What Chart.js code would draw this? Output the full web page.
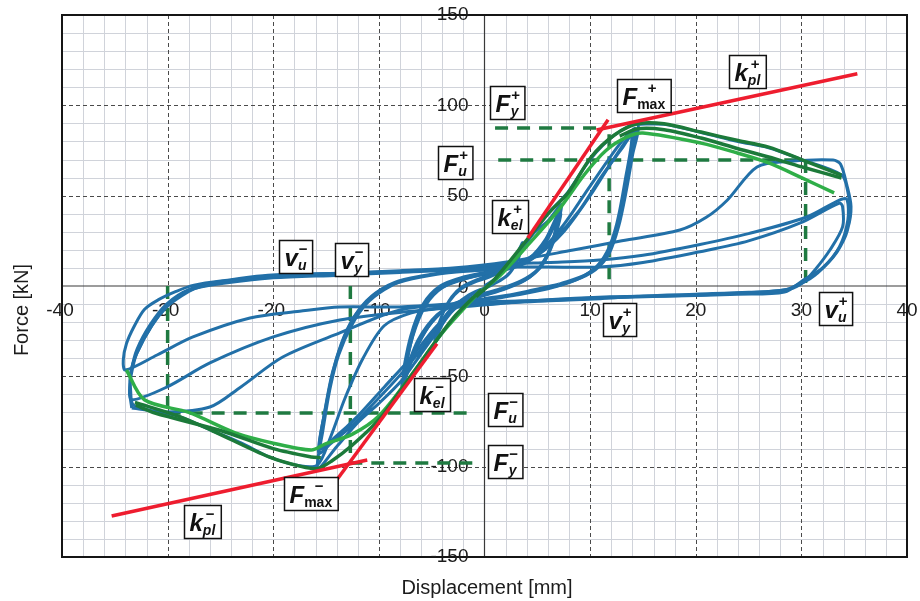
<!DOCTYPE html>
<html>
<head>
<meta charset="utf-8">
<script src="https://cdn.jsdelivr.net/npm/chart.js@4.4.0/dist/chart.umd.min.js"></script>
<style>
html, body { margin: 0; padding: 0; background: #ffffff; }
#wrap { width: 920px; height: 601px; }
</style>
</head>
<body>
<div id="wrap"><canvas id="chart" width="920" height="601"></canvas></div>
<script>
// ---- axis ticks ----
const xTickLabels = [-40, -30, -20, -10, 0, 10, 20, 30, 40];
const yTickLabels = [150, 100, 50, 0, -50, -100, -150];

// ---- measured hysteresis loops: [displacement mm, force kN] ----
const cyclesSmall = [
  [0,0],[1,4],[2,10],[3,17],[3.6,24],
  [3.2,15],[2.5,8],[1.5,3],[0,-1],[-1.5,-5],[-2.8,-11],[-3.8,-19],[-4.7,-30],
  [-4.2,-19],[-3.4,-9],[-2.3,-2],[-1,2],[0.5,5],[1.8,9],[2.8,14],[3.5,22],
  [3.0,13],[2.2,6],[1,1.5],[-0.5,-3],[-2,-7],[-3.2,-14],[-4.0,-21],[-4.6,-28],
  [-4.0,-16],[-3.1,-6],[-2,0],[-0.5,4],[1,7],[2.3,11],[3.4,20]
];
const cyclesMid = [
  [3.4,20],[3.9,24],[4.8,30],[6,36],[7.3,45],
  [6.7,30],[6,18],[5,9],[3.5,3],[1.5,-1.5],[-0.5,-5],[-2.5,-9],[-4.5,-17],[-6.2,-31],[-7.8,-56],
  [-7.2,-36],[-6.4,-18],[-5.3,-6],[-3.8,1],[-1.5,5],[1,8],[3,11],[4.8,18],[6.2,29],[7.3,44],
  [6.6,27],[5.7,14],[4.3,5],[2.5,0],[0.5,-4],[-2,-8],[-4,-14],[-5.8,-26],[-7.6,-50],
  [-7.0,-32],[-6.1,-15],[-4.8,-4],[-3,2],[-0.5,6],[2,9],[4,13],[5.6,22],[7.2,40],
  [6.5,24],[5.4,11],[4,4],[2,-1],[0,-5],[-2.5,-9],[-4.5,-16],[-6.3,-30],[-7.7,-50],
  [-7.0,-28],[-5.8,-10],[-4.2,0],[-2,5],[0.5,8],[2.5,10]
];
const cyclesMidLate = [
  [2.5,10],[4.2,15],[5.8,26],[7,40],[6.3,22],[5.2,10],[3.8,3],[1.8,-2],[-0.5,-6],[-3,-10],
  [-5,-20],[-6.6,-36],[-7.5,-48],[-6.8,-28],[-5.6,-11],[-4,-1],[-1.5,4.5],[1,7.5]
];
const cyclesLarge = [
  [2.5,10],[4,24],[6,40],[7.9,52],[10,70],[12.3,83.5],[14.5,89.5],
  [14.0,72],[13.4,52],[12.7,33],[11.8,18],[10.5,9],[8.5,3],[6,-1.5],[3,-5],[0,-8],[-2.5,-11],
  [-4.7,-27],[-6.3,-40],[-7.8,-52],[-10,-65],[-11.9,-75],[-14,-89],[-15.8,-101],
  [-15.3,-80],[-14.6,-56],[-13.8,-38],[-12.6,-22],[-11.2,-10],[-9.5,-2],[-7.5,3.5],[-5,6.5],[-2.5,8.5],[0,9.5],[2.3,10.5],
  [4,15],[5.4,20],[7.5,34],[9.5,51],[11.5,68],[13,80],[14.3,87],
  [13.8,68],[13.1,46],[12.4,28],[11.4,15],[10,7],[8,2],[5,-2.5],[2,-6],[-0.5,-8.5],[-3,-12],
  [-4.7,-25],[-7.5,-46],[-10,-62],[-12.5,-77],[-14.5,-87],[-15.7,-92.5],
  [-15.2,-72],[-14.4,-48],[-13.4,-30],[-12.2,-16],[-10.5,-5],[-8.5,2],[-6,5.5],[-3,8],[0,9],[2.5,10.5],
  [4.5,15],[6.5,25],[9,42],[11,60],[13,76],[14.2,85.5],
  [13.6,62],[12.9,40],[12.1,23],[11,13],[9.5,6],[7,1]
];
const cyclesLargeLate = [
  [7,1],[4,-3],[1,-6.5],[-2,-9.5],[-4.5,-22],[-7,-40],[-9.5,-56],[-12,-72],[-14.2,-84],[-15.6,-90],
  [-15,-66],[-14.1,-42],[-13,-24],[-11.6,-11],[-9.8,-2],[-7.5,3],[-4.5,6.5],[-1,8.5],[2.3,10],
  [5,17],[7.5,30],[10,50],[12.2,70],[13.9,83],
  [13.3,58],[12.5,34],[11.6,19],[10.3,9],[8,2],[4,-3.5],[0,-7]
];
const cycleBig1 = [
  [14.5,89.5],[17,89.5],[20.5,85],[24,80],[26.9,76.5],[30,70],[33.8,61.5],
  [34.4,52],[34.6,40],[34.2,28],[33,16],[31.3,6],[30.2,2],[28.5,-2],[25,-3.5],[20,-4.5],[15,-5.5],[11,-7],[5,-8.5],[0,-10],[-4,-12],[-7,-15],
  [-9.5,-22],[-11.5,-40],[-13.2,-62],[-14.6,-84],[-15.8,-99],[-17.5,-99.5],[-20.4,-94.6],[-23,-87],[-25.8,-80],[-29,-72],[-33.2,-66],
  [-33.5,-58],[-33.5,-48],[-32.9,-37],[-31.5,-22],[-30.1,-11.6],[-28.5,-4],[-26.9,-0.5],[-24,3],[-20.5,5.5],[-13.7,7],[-8,8.5],[-3,10],[2.1,13.3],
  [8.4,19.9],[13,25],[18.5,31],[21,38],[23,47.6],[25.8,65.9],[29,69],[33,69.7],[33.7,67.5],
  [34.3,56],[34.7,44],[34.4,32],[33.4,19],[31.5,7],[30.2,2.5],[28.3,-2.5],[24,-4],[18,-5],[11,-6.5],[5,-8],[0,-9.5],[-7.8,-13],
  [-13.7,-26],[-19.1,-39.3],[-23.1,-56],[-26,-67],[-30.1,-69.7],[-33.4,-67.5]
];
const cycleBig2 = [
  [-33.4,-67.5],[-33.6,-58],[-33.4,-46],[-32.9,-35],[-31.6,-21],[-30.1,-10],[-28,-2],[-25,2.5],[-20,4.5],[-13.7,6],[-8,7.5],[-3,9],[2.1,12],
  [6,13],[10.9,14.4],[15,17],[20.4,23],[25,29],[30.5,38.2],[33.6,47.6],[34.3,48],
  [34.4,36.5],[33.6,21.6],[32,10],[30.2,3.3],[28.4,-3.3],[24,-4.5],[18,-5.5],[11.9,-6],[5,-8],[-0.1,-10.5],[-7,-14],
  [-13.7,-18.8],[-20,-28.2],[-26,-42.6],[-30.1,-56],[-33.4,-63],
  [-33.6,-56],[-33.3,-45],[-32.9,-37],[-31.5,-22],[-30.1,-11.6],[-28,-3],[-26.9,-0.5],[-22,3.5],[-17.5,5.5],[-8,8],[-1.7,9.5],[2.1,10.5]
];
const cycleBig3 = [
  [2.1,10.5],[6,10.5],[10.9,10.5],[15,13],[20.4,19],[25,25],[29.9,34.9],[33.6,45.9],[33.9,44],
  [33.9,32.7],[32.7,19.9],[31.3,9],[30.2,2.2],[29,-1.5],[26,-3.5],[20,-5],[11.9,-6.5],[6,-8],[-0.1,-8.9],[-8,-11.6],
  [-13.7,-11.6],[-17.5,-14],[-22.2,-17.7],[-27.6,-28.2],[-31,-38.2],[-34,-46.5],
  [-34.2,-41],[-33.9,-32],[-33.2,-22.7],[-32.2,-13],[-30.9,-7.7],[-29.2,-3],[-27.5,0.5],[-24,3.5],[-20.5,6],[-13.7,7],[-8,8],[-3,9.5]
];

// ---- envelope curves ----
const envPosFirst = [[-0.8,-6],[1,4],[3.8,24],[6,40],[7.9,51.5],[10.1,71.4],[12.3,83.6],[14.5,89.8],[17,89.8],[20.5,85.2],[24,80.5],[26.9,76.9],[30,70],[33.8,61.4]];
const envPosSecond = [[12.8,83],[14.5,87],[17,86.5],[20.5,81.9],[24,76],[26.9,71.4],[30,66],[33.8,59.8]];
const envPosThird = [[-0.5,-4],[1.5,6],[4,22],[7,42],[9.5,62],[11.5,75],[13.5,82.5],[15,84.7],[20.5,79.1],[24,73.5],[26.9,68.1],[30,60],[33.1,51.5]];
const envNegFirst = [[-0.3,-2],[-3,-18],[-6,-42],[-8.1,-59],[-10,-74],[-12.5,-88],[-14.5,-97],[-15.8,-101],[-17.3,-100],[-20.4,-94.6],[-25.8,-80],[-29,-72],[-33.1,-64.5]];
const envNegSecond = [[-15.5,-95],[-16.4,-94.6],[-20,-90],[-25,-80],[-31.2,-70.3],[-33,-66]];
const envNegThird = [[-0.3,-2],[-4,-26],[-7,-50],[-10,-72],[-12.5,-82],[-15.1,-87.5],[-16.4,-90.8],[-20,-87],[-23.6,-81.3],[-28,-70],[-32.2,-63],[-33.9,-46.5]];

// ---- bilinear stiffness lines ----
const kElPos = [[4.1,26.6],[11.7,92]];
const kPlPos = [[10.6,86.3],[35.3,117.5]];
const kElNeg = [[-4.5,-32],[-14.2,-109]];
const kPlNeg = [[-35.3,-127.3],[-11.1,-96.3]];

// ---- characteristic values (dashed) ----
const fyPos = [[1,87.4],[10.6,87.4]];
const vyPos = [[11.8,84],[11.8,0]];
const fuPos = [[1.3,69.7],[30.4,69.7]];
const vuPos = [[30.4,69.7],[30.4,0]];
const fyNeg = [[-12.8,-98],[-1,-98]];
const vyNeg = [[-12.7,0],[-12.7,-98]];
const fuNeg = [[-30,-70.3],[-1,-70.3]];
const vuNeg = [[-30,0],[-30,-70.3]];

// ---- symbol boxes: main letter, superscript, subscript, anchor ----
const symbolLabels = [
  { main: 'F', sup: '+', sub: 'y',   x: 2.13,   y: 101.3 },
  { main: 'F', sup: '+', sub: 'u',   x: -2.79,  y: 68.6 },
  { main: 'F', sup: '+', sub: 'max', x: 15.1,   y: 105.7 },
  { main: 'k', sup: '+', sub: 'pl',  x: 24.85,  y: 119 },
  { main: 'k', sup: '+', sub: 'el',  x: 2.41,   y: 38.2 },
  { main: 'v', sup: '\u2212', sub: 'u', x: -17.85, y: 16.1 },
  { main: 'v', sup: '\u2212', sub: 'y', x: -12.54, y: 14.4 },
  { main: 'v', sup: '+', sub: 'y',   x: 12.83,  y: -18.8 },
  { main: 'v', sup: '+', sub: 'u',   x: 33.28,  y: -12.7 },
  { main: 'k', sup: '\u2212', sub: 'el', x: -4.97, y: -59.8 },
  { main: 'F', sup: '\u2212', sub: 'u', x: 1.94,  y: -68.6 },
  { main: 'F', sup: '\u2212', sub: 'y', x: 1.94,  y: -97.4 },
  { main: 'F', sup: '\u2212', sub: 'max', x: -16.43, y: -115.1 },
  { main: 'k', sup: '\u2212', sub: 'pl', x: -26.75, y: -130.6 }
];

const BLUE = '#2270a8';
const GREEN_DARK = '#1c7a3a';
const GREEN_LIGHT = '#2fae48';
const RED = '#ee1d2f';
const DASH_GREEN = '#1f7a41';

const toPts = arr => arr.map(p => ({ x: p[0], y: p[1] }));

function lineSet(arr, color, width, order, extra) {
  return Object.assign({
    data: toPts(arr),
    showLine: true,
    borderColor: color,
    borderWidth: width,
    pointRadius: 0,
    tension: 0.3,
    fill: false,
    order: order
  }, extra || {});
}

const datasets = [];
[kElPos, kPlPos, kElNeg, kPlNeg].forEach(a => datasets.push(lineSet(a, RED, 3.5, 1, { tension: 0 })));
[envPosFirst, envPosSecond, envNegFirst, envNegSecond].forEach(a => datasets.push(lineSet(a, GREEN_DARK, 3.5, 2)));
[envPosThird, envNegThird].forEach(a => datasets.push(lineSet(a, GREEN_LIGHT, 3.5, 2)));
[cyclesSmall, cyclesMid, cyclesMidLate, cyclesLarge, cyclesLargeLate, cycleBig1, cycleBig2, cycleBig3]
  .forEach(a => datasets.push(lineSet(a, BLUE, 3, 3)));
[fyPos, vyPos, fuPos, vuPos, fyNeg, vyNeg, fuNeg, vuNeg].forEach(a => datasets.push(lineSet(a, DASH_GREEN, 3.5, 4, { tension: 0, borderDash: [13, 9] })));

// grid, axes, tick labels and titles
const paperPlugin = {
  id: 'paper',
  beforeDatasetsDraw(chart) {
    const { ctx, chartArea: a, scales: { x, y } } = chart;
    ctx.save();
    // minor grid
    ctx.strokeStyle = '#d0d3da';
    ctx.lineWidth = 1;
    for (let v = -38; v < 40; v += 2) {
      if (v % 10 === 0) continue;
      const px = Math.round(x.getPixelForValue(v)) + 0.5;
      ctx.beginPath(); ctx.moveTo(px, a.top); ctx.lineTo(px, a.bottom); ctx.stroke();
    }
    for (let v = -140; v < 150; v += 10) {
      if (v % 50 === 0) continue;
      const py = Math.round(y.getPixelForValue(v)) + 0.5;
      ctx.beginPath(); ctx.moveTo(a.left, py); ctx.lineTo(a.right, py); ctx.stroke();
    }
    // major dashed grid
    ctx.strokeStyle = '#4a4a4a';
    ctx.setLineDash([4, 3]);
    xTickLabels.forEach(v => {
      if (v === 0 || Math.abs(v) === 40) return;
      const px = Math.round(x.getPixelForValue(v)) + 0.5;
      ctx.beginPath(); ctx.moveTo(px, a.top); ctx.lineTo(px, a.bottom); ctx.stroke();
    });
    yTickLabels.forEach(v => {
      if (v === 0 || Math.abs(v) === 150) return;
      const py = Math.round(y.getPixelForValue(v)) + 0.5;
      ctx.beginPath(); ctx.moveTo(a.left, py); ctx.lineTo(a.right, py); ctx.stroke();
    });
    ctx.setLineDash([]);
    // zero axes
    ctx.strokeStyle = '#3a3a3a';
    ctx.lineWidth = 1.2;
    const x0 = x.getPixelForValue(0), y0 = y.getPixelForValue(0);
    ctx.beginPath(); ctx.moveTo(x0, a.top); ctx.lineTo(x0, a.bottom); ctx.stroke();
    ctx.beginPath(); ctx.moveTo(a.left, y0); ctx.lineTo(a.right, y0); ctx.stroke();
    // frame
    ctx.strokeStyle = '#151515';
    ctx.lineWidth = 2;
    ctx.strokeRect(a.left, a.top, a.right - a.left, a.bottom - a.top);
    // tick labels
    ctx.fillStyle = '#1c1c1c';
    ctx.font = '19px "Liberation Sans", Arial, sans-serif';
    ctx.textAlign = 'center';
    ctx.textBaseline = 'middle';
    xTickLabels.forEach(v => {
      ctx.fillText(String(v), x.getPixelForValue(v) + (v < 0 ? -2 : 0), y0 + 25);
    });
    ctx.textAlign = 'right';
    yTickLabels.forEach(v => {
      ctx.fillText(String(v), x0 - 16, y.getPixelForValue(v) + (v === 0 ? 2 : 0));
    });
    // axis titles
    ctx.font = '20px "Liberation Sans", Arial, sans-serif';
    ctx.textAlign = 'center';
    ctx.fillText('Displacement [mm]', 487, 588);
    ctx.save();
    ctx.translate(22, 310);
    ctx.rotate(-Math.PI / 2);
    ctx.fillText('Force [kN]', 0, 0);
    ctx.restore();
    ctx.restore();
  },
  afterDatasetsDraw(chart) {
    const { ctx, scales: { x, y } } = chart;
    ctx.save();
    symbolLabels.forEach(l => {
      const cx = x.getPixelForValue(l.x), cy = y.getPixelForValue(l.y);
      const fMain = 'italic bold 24px "Liberation Sans", Arial, sans-serif';
      const fSup = 'bold 15px "Liberation Sans", Arial, sans-serif';
      const fSub = (l.sub === 'max' ? '' : 'italic ') + 'bold 14px "Liberation Sans", Arial, sans-serif';
      ctx.font = fMain; const wm = ctx.measureText(l.main).width;
      ctx.font = fSup; const wp = ctx.measureText(l.sup).width;
      ctx.font = fSub; const wb = ctx.measureText(l.sub).width;
      const ws = Math.max(wp, wb);
      const w = wm + ws + 11, h = 33;
      const left = Math.round(cx - w / 2) + 0.5, top = Math.round(cy - h / 2) + 0.5;
      ctx.fillStyle = '#ffffff';
      ctx.fillRect(left, top, w, h);
      ctx.strokeStyle = '#111111';
      ctx.lineWidth = 1.5;
      ctx.strokeRect(left, top, w, h);
      ctx.fillStyle = '#111111';
      ctx.textAlign = 'left';
      ctx.textBaseline = 'alphabetic';
      ctx.font = fMain; ctx.fillText(l.main, left + 5, top + 25);
      ctx.font = fSup; ctx.fillText(l.sup, left + 6 + wm + (ws - wp) / 2, top + 13);
      ctx.font = fSub; ctx.fillText(l.sub, left + 5 + wm + (ws - wb) / 2, top + 29);
    });
    ctx.restore();
  }
};

new Chart(document.getElementById('chart'), {
  type: 'scatter',
  data: { datasets },
  options: {
    responsive: false,
    animation: false,
    devicePixelRatio: 1,
    layout: { padding: { left: 62, right: 13, top: 15, bottom: 44 } },
    plugins: { legend: { display: false }, tooltip: { enabled: false } },
    scales: {
      x: { type: 'linear', min: -40, max: 40, display: false },
      y: { type: 'linear', min: -150, max: 150, display: false }
    }
  },
  plugins: [paperPlugin]
});
</script>
</body>
</html>
